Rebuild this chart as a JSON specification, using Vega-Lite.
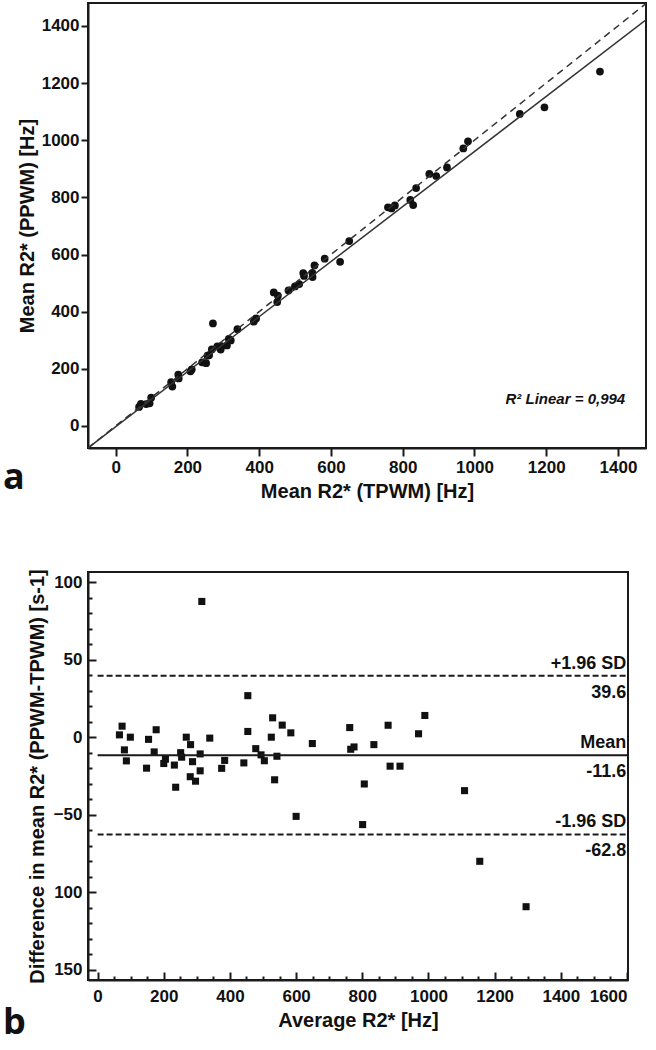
{
  "$schema": "https://vega.github.io/schema/vega-lite/v6.json",
  "padding": {"left": 2, "top": 2, "right": 5, "bottom": 5},
  "spacing": 65,
  "config": {
    "font": "Liberation Sans",
    "view": {"stroke": "#1a1a1a", "strokeWidth": 2},
    "axis": {
      "labelFont": "Liberation Sans", "labelFontWeight": "bold", "labelColor": "#111",
      "titleFont": "Liberation Sans", "titleFontWeight": "bold", "titleColor": "#111",
      "domainColor": "#1a1a1a", "tickColor": "#1a1a1a", "grid": false, "domainWidth": 2, "tickWidth": 2,
      "format": "d", "labelOverlap": false
    }
  },
  "datasets": {
    "paired": [
      {"TPWM": 65.3, "PPWM": 66.8}, {"TPWM": 70.5, "PPWM": 77.6}, {"TPWM": 85.1, "PPWM": 76.9}, {"TPWM": 94.7, "PPWM": 79.4},
      {"TPWM": 99, "PPWM": 99}, {"TPWM": 158, "PPWM": 138}, {"TPWM": 154.7, "PPWM": 153.3}, {"TPWM": 175.8, "PPWM": 166.3},
      {"TPWM": 174.6, "PPWM": 179.4}, {"TPWM": 208.5, "PPWM": 191.5}, {"TPWM": 212.1, "PPWM": 197.9}, {"TPWM": 241, "PPWM": 223},
      {"TPWM": 252.2, "PPWM": 219.9}, {"TPWM": 256, "PPWM": 246}, {"TPWM": 260.5, "PPWM": 247.6}, {"TPWM": 268, "PPWM": 268},
      {"TPWM": 283.4, "PPWM": 278.6}, {"TPWM": 292.8, "PPWM": 267.3}, {"TPWM": 294.9, "PPWM": 279.1}, {"TPWM": 310.2, "PPWM": 281.8},
      {"TPWM": 315.4, "PPWM": 304.6}, {"TPWM": 320.9, "PPWM": 299.2}, {"TPWM": 271.2, "PPWM": 358.8}, {"TPWM": 339.3, "PPWM": 338.7},
      {"TPWM": 385, "PPWM": 365}, {"TPWM": 391.5, "PPWM": 376.5}, {"TPWM": 450.3, "PPWM": 433.7}, {"TPWM": 440.6, "PPWM": 467.4},
      {"TPWM": 452.2, "PPWM": 455.9}, {"TPWM": 481.7, "PPWM": 474.3}, {"TPWM": 499.7, "PPWM": 488.3}, {"TPWM": 511.6, "PPWM": 496.4},
      {"TPWM": 525, "PPWM": 525}, {"TPWM": 522.8, "PPWM": 535.3}, {"TPWM": 548.8, "PPWM": 521.3}, {"TPWM": 548.2, "PPWM": 535.9},
      {"TPWM": 554.1, "PPWM": 561.9}, {"TPWM": 582.6, "PPWM": 585.4}, {"TPWM": 625.6, "PPWM": 574.5}, {"TPWM": 651, "PPWM": 647},
      {"TPWM": 758.9, "PPWM": 765.1}, {"TPWM": 768.9, "PPWM": 761.1}, {"TPWM": 778.2, "PPWM": 771.9}, {"TPWM": 829.2, "PPWM": 772.8},
      {"TPWM": 821.1, "PPWM": 790.9}, {"TPWM": 837.4, "PPWM": 832.6}, {"TPWM": 874.2, "PPWM": 881.9}, {"TPWM": 893.4, "PPWM": 874.7},
      {"TPWM": 923.4, "PPWM": 904.7}, {"TPWM": 968.9, "PPWM": 971.1}, {"TPWM": 982, "PPWM": 996}, {"TPWM": 1126.3, "PPWM": 1091.8},
      {"TPWM": 1195, "PPWM": 1115}, {"TPWM": 1349.7, "PPWM": 1240.3}
    ],
    "bland": [
      {"average": 66, "difference": 1.5}, {"average": 74, "difference": 7.1}, {"average": 81, "difference": -8.2}, {"average": 87, "difference": -15.3},
      {"average": 99, "difference": 0}, {"average": 148, "difference": -20}, {"average": 154, "difference": -1.4}, {"average": 171, "difference": -9.5},
      {"average": 177, "difference": 4.8}, {"average": 200, "difference": -17}, {"average": 205, "difference": -14.2}, {"average": 232, "difference": -18},
      {"average": 236, "difference": -32.3}, {"average": 251, "difference": -10}, {"average": 254, "difference": -12.9}, {"average": 268, "difference": 0},
      {"average": 281, "difference": -4.8}, {"average": 280, "difference": -25.5}, {"average": 287, "difference": -15.8}, {"average": 296, "difference": -28.4},
      {"average": 310, "difference": -10.8}, {"average": 310, "difference": -21.7}, {"average": 315, "difference": 87.6}, {"average": 339, "difference": -0.6},
      {"average": 375, "difference": -20.1}, {"average": 384, "difference": -15}, {"average": 442, "difference": -16.6}, {"average": 454, "difference": 26.8},
      {"average": 454, "difference": 3.7}, {"average": 478, "difference": -7.4}, {"average": 494, "difference": -11.4}, {"average": 504, "difference": -15.2},
      {"average": 525, "difference": 0}, {"average": 529, "difference": 12.5}, {"average": 535, "difference": -27.5}, {"average": 542, "difference": -12.3},
      {"average": 558, "difference": 7.8}, {"average": 584, "difference": 2.8}, {"average": 600, "difference": -51.1}, {"average": 649, "difference": -4.1},
      {"average": 762, "difference": 6.2}, {"average": 765, "difference": -7.8}, {"average": 775, "difference": -6.3}, {"average": 801, "difference": -56.4},
      {"average": 806, "difference": -30.2}, {"average": 835, "difference": -4.8}, {"average": 878, "difference": 7.7}, {"average": 884, "difference": -18.7},
      {"average": 914, "difference": -18.7}, {"average": 970, "difference": 2.2}, {"average": 989, "difference": 14}, {"average": 1109, "difference": -34.5},
      {"average": 1155, "difference": -80.1}, {"average": 1295, "difference": -109.4}
    ],
    "identity": [{"x": -77, "y": -77}, {"x": 1478, "y": 1478}],
    "fit": [{"x": -77, "y": -77}, {"x": 1478, "y": 1421}],
    "limits": [
      {"name": "+1.96 SD", "value": 39.6, "valueText": "39.6"},
      {"name": "Mean", "value": -11.6, "valueText": "-11.6"},
      {"name": "-1.96 SD", "value": -62.8, "valueText": "-62.8"}
    ]
  },
  "vconcat": [
    {
      "width": 558,
      "height": 445,
      "title": {"text": "a", "orient": "bottom", "anchor": "start", "frame": "group", "font": "Open Sans", "fontSize": 36, "fontWeight": "bold", "color": "#111", "baseline": "alphabetic", "offset": 0, "dx": -85, "dy": -12},
      "layer": [
        {
          "data": {"name": "paired"},
          "mark": {"type": "circle", "size": 60, "opacity": 1, "color": "#111"},
          "encoding": {
            "x": {"field": "TPWM", "type": "quantitative", "scale": {"domain": [-77, 1478], "nice": false, "zero": false},
              "axis": {"title": "Mean R2* (TPWM) [Hz]", "values": [0, 200, 400, 600, 800, 1000, 1200, 1400], "tickCount": 100, "labelOverlap": false, "labelFontSize": 17, "titleFontSize": 20, "tickSize": 8, "labelPadding": 3, "titlePadding": 6}},
            "y": {"field": "PPWM", "type": "quantitative", "scale": {"domain": [-77, 1480], "nice": false, "zero": false},
              "axis": {"title": "Mean R2* (PPWM) [Hz]", "values": [0, 200, 400, 600, 800, 1000, 1200, 1400], "tickCount": 100, "labelOverlap": false, "labelFontSize": 17, "titleFontSize": 20, "tickSize": 7, "labelPadding": 2, "titlePadding": 4}}
          }
        },
        {
          "data": {"name": "identity"},
          "mark": {"type": "line", "strokeDash": [7, 5], "color": "#333", "strokeWidth": 1.5, "clip": true},
          "encoding": {"x": {"field": "x", "type": "quantitative"}, "y": {"field": "y", "type": "quantitative"}}
        },
        {
          "data": {"name": "fit"},
          "mark": {"type": "line", "color": "#333", "strokeWidth": 1.5, "clip": true},
          "encoding": {"x": {"field": "x", "type": "quantitative"}, "y": {"field": "y", "type": "quantitative"}}
        },
        {
          "data": {"values": [{"label": "R² Linear = 0,994"}]},
          "mark": {"type": "text", "align": "right", "baseline": "middle", "fontSize": 15, "fontWeight": "bold", "fontStyle": "italic", "color": "#111"},
          "encoding": {"x": {"datum": 1420}, "y": {"datum": 94}, "text": {"field": "label"}}
        }
      ]
    },
    {
      "width": 540,
      "height": 408,
      "title": {"text": "b", "orient": "bottom", "anchor": "start", "frame": "group", "font": "Open Sans", "fontSize": 36, "fontWeight": "bold", "color": "#111", "baseline": "alphabetic", "offset": 0, "dx": -85, "dy": 4},
      "layer": [
        {
          "data": {"name": "bland"},
          "mark": {"type": "square", "size": 50, "opacity": 1, "color": "#111"},
          "encoding": {
            "x": {"field": "average", "type": "quantitative", "scale": {"domain": [-29, 1603], "nice": false, "zero": false},
              "axis": {"title": "Average R2* [Hz]",
                "values": [0, 50, 100, 150, 200, 250, 300, 350, 400, 450, 500, 550, 600, 650, 700, 750, 800, 850, 900, 950, 1000, 1050, 1100, 1150, 1200, 1250, 1300, 1350, 1400, 1450, 1500, 1550, 1600],
                "tickCount": 100,
                "labelExpr": "datum.value % 200 === 0 ? datum.label : ''",
                "labelOverlap": false,
                "labelFontSize": {"condition": {"test": "datum.value % 200 === 0", "value": 17}, "value": 0},
                "tickSize": {"condition": {"test": "datum.value % 200 === 0", "value": -8}, "value": -4},
                "titleFontSize": 20, "labelPadding": 16, "titlePadding": 6}},
            "y": {"field": "difference", "type": "quantitative", "scale": {"domain": [-156.7, 106.6], "nice": false, "zero": false},
              "axis": {"title": "Difference in mean R2* (PPWM-TPWM) [s-1]",
                "values": [-150, -140, -130, -120, -110, -100, -90, -80, -70, -60, -50, -40, -30, -20, -10, 0, 10, 20, 30, 40, 50, 60, 70, 80, 90, 100],
                "tickCount": 100,
                "labelExpr": "datum.value % 50 === 0 ? (datum.value < -50 ? format(-datum.value, 'd') : format(datum.value, 'd')) : ''",
                "labelOverlap": false,
                "labelFontSize": {"condition": {"test": "datum.value % 50 === 0", "value": 17}, "value": 0},
                "tickSize": {"condition": {"test": "datum.value % 50 === 0", "value": -8}, "value": -4},
                "titleFontSize": 20, "labelPadding": 14, "titlePadding": 6}}
          }
        },
        {
          "data": {"name": "limits"},
          "mark": {"type": "rule", "strokeWidth": 2, "color": "#1a1a1a"},
          "encoding": {
            "x": {"datum": 0}, "x2": {"datum": 1600},
            "y": {"field": "value", "type": "quantitative"},
            "strokeDash": {"field": "name", "type": "nominal", "scale": {"domain": ["+1.96 SD", "Mean", "-1.96 SD"], "range": [[6, 3], [1, 0], [6, 3]]}, "legend": null}
          }
        },
        {
          "data": {"name": "limits"},
          "mark": {"type": "text", "align": "right", "baseline": "middle", "dy": -12, "fontSize": 18, "fontWeight": "bold", "color": "#111"},
          "encoding": {"x": {"datum": 1598}, "y": {"field": "value", "type": "quantitative"}, "text": {"field": "name"}}
        },
        {
          "data": {"name": "limits"},
          "mark": {"type": "text", "align": "right", "baseline": "middle", "dy": 17, "fontSize": 18, "fontWeight": "bold", "color": "#111"},
          "encoding": {"x": {"datum": 1598}, "y": {"field": "value", "type": "quantitative"}, "text": {"field": "valueText"}}
        }
      ]
    }
  ]
}
